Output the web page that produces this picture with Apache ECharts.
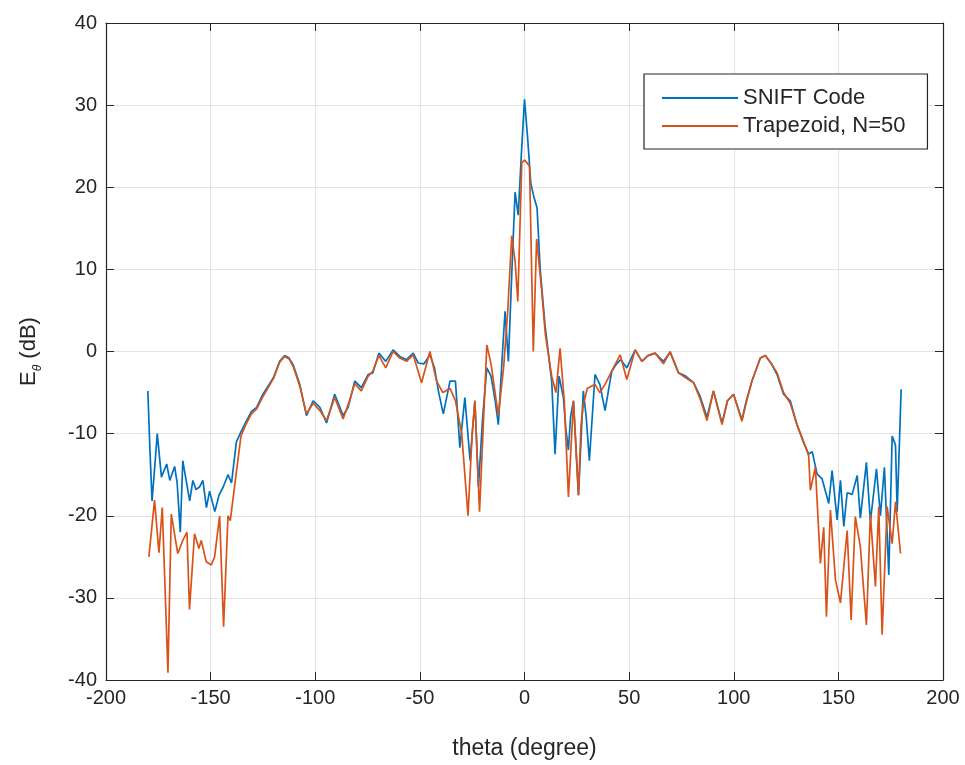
<!DOCTYPE html>
<html>
<head>
<meta charset="utf-8">
<script src="https://cdn.jsdelivr.net/npm/echarts@6/dist/echarts.min.js"></script>
<style>
html,body{margin:0;padding:0;background:#fff;}
#chart{width:965px;height:765px;}
</style>
</head>
<body>
<div id="chart"></div>
<script>
var xTicks = [-200, -150, -100, -50, 0, 50, 100, 150, 200];
var yTicks = [-40, -30, -20, -10, 0, 10, 20, 30, 40];

var thetaSnift = [-180,-179,-178,-177,-175.5,-173.5,-171,-169.5,-167.2,-166,-164.5,-163.3,-161.5,-160,-158.5,-157,-155.3,-153.7,-152,-150.5,-148,-146,-144,-141.7,-140,-137.7,-135.5,-133,-130.5,-128,-125,-122.5,-120,-117,-114.6,-112.5,-110.6,-107.4,-104.2,-101,-97.8,-94.6,-90.7,-86.7,-84.3,-81.1,-78,-74.7,-72.5,-69.6,-66.3,-62.8,-59.6,-56.4,-53.2,-50.8,-48,-45.2,-43,-41,-38.8,-35.6,-33,-30.9,-28.5,-26,-23.7,-22,-20,-18,-16,-14,-12.5,-10.5,-9.3,-7.7,-6,-4.5,-3,-1.5,0,1.5,3,4.5,6,7.5,9.8,13,14.6,16.5,18.6,19.7,21,22,23.4,25.8,28.1,29.5,31,33.7,36,38.5,41.7,44,46,48.9,52.9,56.1,59,62.4,66.4,69.6,73.6,77,80.8,84,87.2,90.3,94.4,97,99.9,103.9,106,108.7,112.7,115.1,118,120.7,123.8,127,130.2,133.4,135.8,137.5,139.8,142.2,145.4,147,149.4,151,152.6,154.2,156.6,159,160.5,163.4,165.3,168.2,170.1,172,174.1,175.7,177.3,178.1,180];
var eSnift = [-4.8,-12,-18.2,-15,-10,-15.3,-13.7,-15.7,-14,-16,-22,-13.3,-16,-18.2,-15.7,-16.8,-16.5,-15.7,-19,-17,-19.5,-17.5,-16.5,-15,-16,-11,-9.8,-8.5,-7.3,-6.8,-5.2,-4.2,-3.2,-1.2,-0.5,-0.8,-1.6,-4,-7.8,-6,-6.8,-8.7,-5.2,-7.8,-6.8,-3.6,-4.4,-2.8,-2.6,-0.2,-1.2,0.2,-0.6,-1,-0.2,-1.4,-1.5,-0.4,-2,-5,-7.6,-3.6,-3.6,-11.7,-5.6,-13.3,-6,-16.5,-8,-2,-3,-6,-8.9,0,4.9,-1.2,10,19.4,16.6,24,30.7,26,20.5,18.8,17.5,10,3.2,-3.6,-12.5,-3,-5.6,-9.3,-12,-8,-6,-17.5,-4.8,-8,-13.3,-2.8,-4,-7.2,-2.4,-1.5,-1,-2,0.2,-1.2,-0.5,-0.2,-1.2,-0.1,-2.6,-3,-3.8,-5.5,-8,-4.8,-8.7,-6,-5.2,-8.3,-6,-3.6,-0.8,-0.5,-1.5,-2.8,-5.2,-6,-8.9,-11.1,-12.5,-12.2,-14.9,-15.5,-18.5,-14.5,-20.5,-15.7,-21.3,-17.2,-17.4,-15.1,-20.3,-13.5,-20.7,-14.3,-20,-14.1,-27.2,-10.3,-11.4,-19.5,-4.6];

var thetaTrap = [-179.5,-176.8,-174.7,-173.1,-170.4,-168.8,-165.7,-163.3,-161.3,-160.1,-157.7,-155.6,-154.5,-152.1,-149.7,-148.1,-145.7,-143.8,-141.7,-140.6,-137.7,-135.5,-133,-130.5,-128,-125,-122.5,-120,-117,-114.6,-112.5,-110.6,-107.4,-104.2,-101,-97.8,-94.6,-90.7,-86.7,-84.3,-81.1,-78,-74.7,-72.5,-69.6,-66.3,-62.8,-59.6,-56.4,-53.2,-49.2,-45.2,-42,-39,-35.6,-33,-30,-27,-25,-23.7,-21.5,-18,-16,-12.5,-10,-8,-6.1,-4.5,-3.2,-1.3,0,2.4,4.2,5.8,8,10,13,15,17,19,21,23.4,25.8,27,28.1,30,33.7,36,38.5,41.7,45.7,48.9,52.9,56.1,59,62.4,66.4,69.6,73.6,77,80.8,84,87.2,90.3,94.4,97,99.9,103.9,106,108.7,112.7,115.1,118,120.7,123.8,127,130.2,133.4,135.8,136.6,139,141.4,143,144.3,146.2,148.6,151,154.2,156.1,158.1,160.5,163.4,165.3,167.7,169.3,170.9,173.3,175.7,177.3,179.7];
var eTrap = [-25,-18.1,-24.5,-19,-39.1,-19.8,-24.6,-23,-22,-31.4,-22.2,-24,-23,-25.6,-26,-25,-20,-33.5,-20,-20.6,-14.7,-10.3,-8.8,-7.6,-7,-5.5,-4.4,-3.3,-1.3,-0.6,-0.9,-1.8,-4.2,-7.6,-6.3,-7.2,-8.4,-5.6,-8.2,-6.5,-3.9,-4.8,-3,-2.4,-0.5,-2,0,-0.8,-1.2,-0.4,-3.8,0,-3.6,-5,-4.5,-6,-10,-20,-10,-6,-19.5,0.8,-1.5,-7.8,-2,5,14.1,11,6.1,23,23.3,22.6,0,13.7,8,2,-3,-5,0.4,-6,-17.7,-6,-17.5,-9,-6.5,-4.5,-4,-5,-4,-2.4,-0.4,-3.4,0.2,-1.2,-0.5,-0.2,-1.5,0,-2.6,-3.2,-3.8,-5.8,-8.4,-4.8,-8.9,-6,-5.2,-8.5,-6.2,-3.6,-0.8,-0.5,-1.5,-2.6,-5,-6.3,-8.9,-11,-12.7,-16.9,-14.1,-25.8,-21.4,-32.3,-19.3,-27.8,-30.6,-21.8,-32.7,-20.1,-23.8,-33.3,-19.8,-28.6,-18.9,-34.5,-18.9,-23.4,-18.3,-24.6];

var seriesNames = ['SNIFT Code', 'Trapezoid, N=50'];

function zip(a, b) { return a.map(function (v, i) { return [v, b[i]]; }); }

var chart = echarts.init(document.getElementById('chart'), null, {renderer: 'canvas'});
var FONT = '"Liberation Sans", Arial, Helvetica, sans-serif';
var TXT = '#262626';

var option = {
  backgroundColor: '#fff',
  animation: false,
  textStyle: {fontFamily: FONT},
  grid: {left: 106, right: 22, top: 23, bottom: 81, containLabel: false},
  legend: {
    orient: 'vertical',
    left: 644, top: 74,
    padding: [13, 22, 12, 18],
    itemGap: 6,
    itemWidth: 76,
    itemHeight: 2,
    itemTextGap: 7,
    borderColor: '#262626',
    borderWidth: 1.2,
    backgroundColor: '#fff',
    textStyle: {fontFamily: FONT, fontSize: 22, color: TXT},
    data: [
      {name: seriesNames[0], icon: 'rect'},
      {name: seriesNames[1], icon: 'rect'}
    ]
  },
  xAxis: [{
    type: 'value', min: -200, max: 200, interval: 50,
    name: 'theta (degree)', nameLocation: 'middle', nameGap: 57,
    nameTextStyle: {fontSize: 23, color: TXT, fontFamily: FONT},
    axisLine: {show: true, onZero: false, lineStyle: {color: '#262626', width: 1.2}},
    axisTick: {show: true, inside: true, length: 8, lineStyle: {color: '#262626'}},
    axisLabel: {fontSize: 20, color: TXT, margin: 8, fontFamily: FONT},
    splitLine: {show: true, lineStyle: {color: '#e3e3e3', width: 1}}
  }, {
    type: 'value', min: -200, max: 200, interval: 50, position: 'top',
    axisLine: {show: true, onZero: false, lineStyle: {color: '#262626', width: 1.2}},
    axisTick: {show: true, inside: true, length: 8, lineStyle: {color: '#262626'}},
    axisLabel: {show: false}, splitLine: {show: false}
  }],
  yAxis: [{
    type: 'value', min: -40, max: 40, interval: 10,
    name: '{a|E}{b|θ}{a| (dB)}', nameLocation: 'middle', nameGap: 62, nameRotate: 90,
    nameTextStyle: {
      color: TXT, fontFamily: FONT,
      rich: {
        a: {fontSize: 22, color: TXT, fontFamily: FONT, verticalAlign: 'top', lineHeight: 26},
        b: {fontSize: 12, color: TXT, fontFamily: FONT, fontStyle: 'italic', verticalAlign: 'bottom', lineHeight: 26, padding: [8, 0, 0, 0]}
      }
    },
    axisLine: {show: true, onZero: false, lineStyle: {color: '#262626', width: 1.2}},
    axisTick: {show: true, inside: true, length: 8, lineStyle: {color: '#262626'}},
    axisLabel: {fontSize: 20, color: TXT, margin: 9, fontFamily: FONT},
    splitLine: {show: true, lineStyle: {color: '#e3e3e3', width: 1}}
  }, {
    type: 'value', min: -40, max: 40, interval: 10, position: 'right',
    axisLine: {show: true, onZero: false, lineStyle: {color: '#262626', width: 1.2}},
    axisTick: {show: true, inside: true, length: 8, lineStyle: {color: '#262626'}},
    axisLabel: {show: false}, splitLine: {show: false}
  }],
  series: [{
    name: seriesNames[0], type: 'line', xAxisIndex: 0, yAxisIndex: 0,
    data: zip(thetaSnift, eSnift), showSymbol: false, symbol: 'none',
    lineStyle: {color: '#0072BD', width: 1.7}, itemStyle: {color: '#0072BD'}, z: 3
  }, {
    name: seriesNames[1], type: 'line', xAxisIndex: 0, yAxisIndex: 0,
    data: zip(thetaTrap, eTrap), showSymbol: false, symbol: 'none',
    lineStyle: {color: '#D95319', width: 1.7}, itemStyle: {color: '#D95319'}, z: 4
  }]
};
chart.setOption(option);
</script>
</body>
</html>
